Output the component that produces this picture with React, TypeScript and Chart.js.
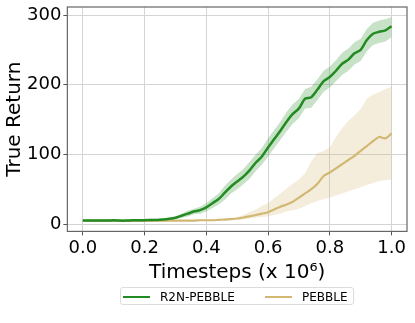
import React, { useEffect, useRef } from "react";
import { Chart, registerables } from "chart.js";

Chart.register(...registerables);

const timesteps = [
  0.0, 0.02, 0.04, 0.06, 0.08, 0.1, 0.12, 0.14, 0.16, 0.18, 0.2, 0.22, 0.24, 0.26, 0.28,
  0.3, 0.32, 0.34, 0.36, 0.38, 0.4, 0.42, 0.44, 0.46, 0.48, 0.5, 0.52, 0.54, 0.56, 0.58,
  0.6, 0.62, 0.64, 0.66, 0.68, 0.7, 0.72, 0.74, 0.76, 0.78, 0.8, 0.82, 0.84, 0.86, 0.88,
  0.9, 0.92, 0.94, 0.96, 0.98, 1.0,
];

const r2nMean = [
  5, 5, 5, 5, 5, 5.5, 5, 5, 5.5, 5.5, 5.5, 6, 6, 6.5, 7.5,
  9, 12, 15, 18, 20, 24, 30, 36, 45, 54, 61, 68, 77, 88, 97,
  110, 122, 134, 147, 158, 166, 180, 182, 193, 205, 211, 220, 230, 236, 245,
  250, 264, 273, 276, 278, 284,
];
const r2nLow = [
  3.5, 3.5, 3.5, 3.5, 3.5, 4, 3.5, 3.5, 4, 4, 4, 4.5, 4.5, 5, 5.5,
  7, 9, 11, 14, 15, 18, 23, 28, 35, 44, 50, 57, 65, 76, 85,
  97, 109, 121, 133, 144, 152, 166, 167, 178, 190, 196, 205, 214, 220, 229,
  234, 248, 257, 260, 262, 268,
];
const r2nHigh = [
  6.5, 6.5, 6.5, 6.5, 6.5, 7, 6.5, 6.5, 7, 7, 7, 7.5, 7.5, 8, 9.5,
  11, 15, 19, 22, 25, 30, 37, 44, 55, 64, 72, 79, 89, 100, 109,
  123, 135, 147, 161, 172, 180, 194, 197, 208, 220, 226, 235, 246, 252, 261,
  266, 280, 289, 292, 294, 297,
];

const pebbleMean = [
  4.5, 4.5, 4.5, 4.5, 4.5, 4.5, 4.5, 4.5, 4.5, 4.5, 4.5, 4.5, 5, 5, 5,
  5, 5, 5, 5, 5.5, 5.5, 5.5, 6, 6.5, 7, 8, 9.5, 11, 13, 15,
  17, 21, 25, 28, 32, 38, 44, 50, 58, 69, 74, 80, 86, 92, 98,
  105, 112, 119, 125, 123, 130,
];
const pebbleLow = [
  3.5, 3.5, 3.5, 3.5, 3.5, 3.5, 3.5, 3.5, 3.5, 3.5, 3.5, 3.5, 4, 4, 4,
  4, 4, 4, 4, 4.5, 4.5, 4.5, 5, 5.5, 6, 6.5, 7, 8, 9, 10,
  11, 13, 15, 18, 20, 22, 26, 30, 33, 36, 38, 41, 44, 47, 50,
  53, 56, 59, 62, 63, 64,
];
const pebbleHigh = [
  5.5, 5.5, 5.5, 5.5, 5.5, 5.5, 5.5, 5.5, 5.5, 5.5, 5.5, 5.5, 6, 6, 6,
  6, 6, 6, 6, 6.5, 6.5, 7, 7.5, 8, 9, 10, 13, 17, 21, 26,
  30, 37, 44, 51, 58, 64, 73, 90, 102, 105, 110, 125, 138, 148, 156,
  165, 180, 186, 189, 194, 197,
];

const seriesNames = ["R2N-PEBBLE", "PEBBLE"];
const xTicks = [0, 0.2, 0.4, 0.6, 0.8, 1.0];
const yTicks = [0, 100, 200, 300];

const GREEN = "rgb(34,139,34)";
const GREEN_BAND = "rgba(34,139,34,0.25)";
const TAN = "rgb(210,184,115)";
const TAN_BAND = "rgba(210,184,115,0.25)";
const FONT = "'DejaVu Sans', sans-serif";

const toPts = (ys: number[]) => ys.map((y, i) => ({ x: timesteps[i], y }));

const frame = {
  id: "frame",
  afterDraw(chart: any) {
    const { ctx, chartArea: a } = chart;
    ctx.save();
    ctx.strokeStyle = "#666";
    ctx.lineWidth = 1.2;
    ctx.strokeRect(a.left, a.top, a.right - a.left, a.bottom - a.top);
    ctx.restore();
  },
};

export default function App() {
  const ref = useRef<HTMLCanvasElement>(null);
  useEffect(() => {
    if (!ref.current) return;
    const chart = new Chart(ref.current, {
      type: "line",
      data: {
        datasets: [
          {
            label: seriesNames[0],
            data: toPts(r2nMean),
            borderColor: GREEN,
            borderWidth: 2.5,
            pointRadius: 0,
            tension: 0.3,
            fill: false,
            order: 0,
          },
          {
            label: seriesNames[1],
            data: toPts(pebbleMean),
            borderColor: TAN,
            borderWidth: 2.2,
            pointRadius: 0,
            tension: 0.3,
            fill: false,
            order: 1,
          },
          {
            label: "",
            data: toPts(r2nLow),
            borderWidth: 0,
            borderColor: "rgba(0,0,0,0)",
            pointRadius: 0,
            fill: false,
            order: 2,
          },
          {
            label: "",
            data: toPts(r2nHigh),
            borderWidth: 0,
            borderColor: "rgba(0,0,0,0)",
            backgroundColor: GREEN_BAND,
            pointRadius: 0,
            fill: "-1",
            order: 2,
          },
          {
            label: "",
            data: toPts(pebbleLow),
            borderWidth: 0,
            borderColor: "rgba(0,0,0,0)",
            pointRadius: 0,
            fill: false,
            order: 3,
          },
          {
            label: "",
            data: toPts(pebbleHigh),
            borderWidth: 0,
            borderColor: "rgba(0,0,0,0)",
            backgroundColor: TAN_BAND,
            pointRadius: 0,
            fill: "-1",
            order: 3,
          },
        ],
      },
      options: {
        animation: false,
        responsive: true,
        maintainAspectRatio: false,
        layout: { padding: { left: 3, right: 8, top: 7, bottom: 38 } },
        plugins: {
          legend: { display: false },
          tooltip: { enabled: false },
        },
        scales: {
          x: {
            type: "linear",
            min: -0.05,
            max: 1.05,
            afterBuildTicks: (s: any) => {
              s.ticks = xTicks.map((v) => ({ value: v }));
            },
            afterFit: (s: any) => {
              s.paddingLeft = 0;
              s.paddingRight = 0;
            },
            ticks: {
              color: "#000",
              font: { family: FONT, size: 18 },
              padding: 2,
              maxRotation: 0,
              callback: (v: any) => Number(v).toFixed(1),
            },
            grid: { color: "#d4d4d4", tickColor: "#555", tickLength: 4 },
            border: { display: false },
            title: {
              display: true,
              text: "Timesteps (x 10⁶)",
              color: "#000",
              font: { family: FONT, size: 20 },
              padding: { top: 0, bottom: 0 },
            },
          },
          y: {
            type: "linear",
            min: -10.5,
            max: 311.5,
            afterBuildTicks: (s: any) => {
              s.ticks = yTicks.map((v) => ({ value: v }));
            },
            afterFit: (s: any) => {
              s.paddingTop = 0;
              s.paddingBottom = 0;
            },
            ticks: {
              color: "#000",
              font: { family: FONT, size: 18 },
              padding: 2,
              callback: (v: any) => String(v),
            },
            grid: { color: "#d4d4d4", tickColor: "#555", tickLength: 4 },
            border: { display: false },
            title: {
              display: true,
              text: "True Return",
              color: "#000",
              font: { family: FONT, size: 20 },
              padding: { top: 0, bottom: -2 },
            },
          },
        },
      },
      plugins: [frame],
    });
    return () => chart.destroy();
  }, []);

  const legendItem = (name: string, color: string, lineLeft: number, textLeft: number) => (
    <>
      <div
        style={{
          position: "absolute",
          left: lineLeft,
          top: 8,
          width: 27,
          height: 2,
          background: color,
        }}
      />
      <div
        style={{
          position: "absolute",
          left: textLeft,
          top: 1,
          fontFamily: FONT,
          fontSize: 12,
          lineHeight: "16px",
          color: "#000",
          whiteSpace: "nowrap",
        }}
      >
        {name}
      </div>
    </>
  );

  return (
    <div style={{ position: "fixed", left: 0, top: 0, width: 415, height: 323, background: "#fff" }}>
      <canvas ref={ref} />
      <div
        style={{
          position: "absolute",
          left: 120,
          top: 287,
          width: 234,
          height: 18,
          border: "1px solid #dcdcdc",
          borderRadius: 3,
          boxSizing: "border-box",
          background: "#fff",
        }}
      >
        {legendItem(seriesNames[0], GREEN, 2, 39)}
        {legendItem(seriesNames[1], TAN, 144, 181)}
      </div>
    </div>
  );
}
